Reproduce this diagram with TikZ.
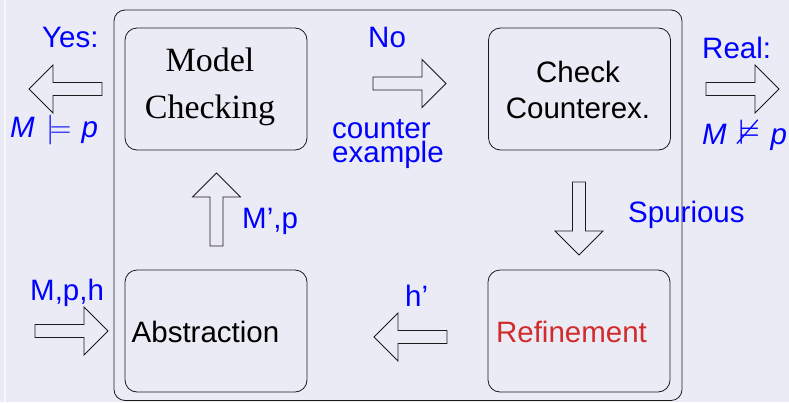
\documentclass[tikz,border=0pt]{standalone}
\usepackage{amssymb}
\usepackage{fontspec}
\setmainfont{Liberation Serif}
\setsansfont{Liberation Sans}
\definecolor{SlideBg}{HTML}{EBEBF5}
\definecolor{LabelBlue}{HTML}{0000FF}
\definecolor{RefineRed}{HTML}{D12B2B}
\definecolor{EdgeDark}{HTML}{1A1A1A}

\tikzset{
  procbox/.style={draw=EdgeDark, line width=0.8pt, rounded corners=12pt,
    minimum width=182pt, minimum height=122pt, inner sep=0pt},
  boxtext/.style={font=\sffamily\fontsize{29.5}{36}\selectfont, align=center, inner sep=0pt},
  tag/.style={font=\sffamily\fontsize{29.5}{24}\selectfont, color=LabelBlue,
    inner sep=0pt, anchor=base west},
  arrowline/.style={draw=EdgeDark, line width=0.8pt, line join=miter},
  pics/fatarrow/.style={code={
    \draw[arrowline] (0,-6.5) -- (49,-6.5) -- (49,-24) -- (73,0) -- (49,24) -- (49,6.5) -- (0,6.5) -- cycle;}}
}

\begin{document}
\begin{tikzpicture}[x=1pt, y=-1pt]
    \fill[SlideBg] (0,0) rectangle (789,402);
    \useasboundingbox (0,0) rectangle (789,402);
    \draw[white!60!SlideBg, line width=1.2pt] (5,0) -- (5,402);

    % loop frame
    \draw[EdgeDark, line width=0.8pt, rounded corners=11pt] (114,10) rectangle (682,400.5);

    % the four stages
    \node[procbox] (mc) at (216,89) {};
    \node[procbox] (cce) at (579.5,89) {};
    \node[procbox] (abs) at (216,331) {};
    \node[procbox] (refine) at (579,331) {};

    \node[font=\rmfamily\fontsize{34}{47}\selectfont, align=center, inner sep=0pt] (mctext) at (210,87) {Model\\Checking};
    \node[boxtext] (ccetext) at (578,90) {Check\\Counterex.};
    \node[boxtext] (abstext) at (205.5,332) {Abstraction};
    \node[boxtext, color=RefineRed] (refinetext) at (571.5,332) {Refinement};

    % block arrows
    \pic[rotate=180] at (102,89) {fatarrow};
    \pic at (373,83.5) {fatarrow};
    \pic at (706,89) {fatarrow};
    \pic[rotate=90] at (216.5,246) {fatarrow};
    \pic[rotate=-90] at (579,182) {fatarrow};
    \pic at (35,331) {fatarrow};
    \pic[rotate=180] at (447,337) {fatarrow};

    % labels
    \node[tag] (yes) at (42,47) {Yes:};
    \node[tag] (holds) at (10,137) {{\itshape M}\hspace{0.4em}\scalebox{1.2}{$\models$}\hspace{0.35em}{\itshape p}};
    \node[tag] (no) at (368,47) {No};
    \node[tag, align=left] (cex) at (332,162) {counter\\example};
    \node[tag] (real) at (702,58) {Real:};
    \node[tag] (fails) at (702,144) {{\itshape M}\hspace{0.4em}\scalebox{1.2}{$\nvDash$}\hspace{0.35em}{\itshape p}};
    \node[tag] (spur) at (628,222) {Spurious};
    \node[tag] (mprime) at (242,228) {M’,p};
    \node[tag] (mph) at (30,300) {M,p,h};
    \node[tag] (hprime) at (405,306) {h’};
\end{tikzpicture}
\end{document}
